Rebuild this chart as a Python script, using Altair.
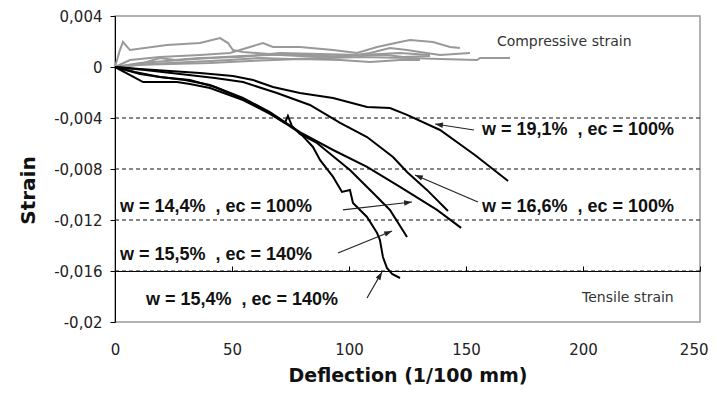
import altair as alt
import pandas as pd
import numpy as np

# ---------- data ----------
# tensile strain curves (black)
t_names = ["T1", "T2", "T3", "T4", "T5"]
t1_x = [0, 10.7, 23.5, 36.3, 50.4, 59, 67.5, 79, 93.2, 107.7, 117.5, 124.8, 138.9, 153.8, 168]
t1_y = [0, -0.00016, -0.00031, -0.00047, -0.00071, -0.00102, -0.00157, -0.00204, -0.00243, -0.00314, -0.00322, -0.00376, -0.00494, -0.0069, -0.00894]
t2_x = [0, 12.8, 27.8, 42.7, 54.7, 69.2, 83.3, 96.2, 107.7, 118.8, 124.8, 133.3, 142.3]
t2_y = [0, -0.00024, -0.00055, -0.00086, -0.00118, -0.00204, -0.00298, -0.00439, -0.00549, -0.00706, -0.00823, -0.00964, -0.01129]
t3_x = [0, 10.7, 19.2, 29.9, 40.6, 54.7, 66.2, 79, 93.2, 107.7, 121.8, 137.6, 147.9]
t3_y = [0, -0.00055, -0.00078, -0.00102, -0.00141, -0.00243, -0.00353, -0.0051, -0.00651, -0.00784, -0.00941, -0.01121, -0.01262]
t4_x = [0, 12, 26.5, 32, 40.6, 54.7, 66.2, 72.6, 73.9, 75.6, 79, 86.3, 100.4, 110.3, 117.5, 124.8]
t4_y = [0, -0.00118, -0.00118, -0.00133, -0.00165, -0.00259, -0.00368, -0.00439, -0.00384, -0.00463, -0.00525, -0.00596, -0.00808, -0.00988, -0.01121, -0.01333]
t5_x = [0, 8.5, 19.2, 32, 42.7, 54.7, 66.2, 79, 84.6, 87.6, 93.2, 97, 100.4, 101.7, 107.7, 112, 113.2, 114.5, 116.2, 118.4, 121.8]
t5_y = [0, -0.00039, -0.00078, -0.00102, -0.00157, -0.00251, -0.00361, -0.00517, -0.00627, -0.00729, -0.00862, -0.0098, -0.00964, -0.01066, -0.01176, -0.01302, -0.01356, -0.0149, -0.01576, -0.01623, -0.01655]

# compressive strain curves (gray)
c_names = ["C1", "C2", "C3", "C4", "C5", "C6"]
c1_x = [0, 2.1, 3.4, 6.4, 22.2, 36.3, 44.9, 48.3, 50.4, 54.7, 70.5, 87.6, 104.7, 121.8, 134.6]
c1_y = [0, 0.00133, 0.00196, 0.00133, 0.00173, 0.00188, 0.00227, 0.00188, 0.00133, 0.00118, 0.00094, 0.00078, 0.00094, 0.0011, 0.00094]
c2_x = [0, 6.4, 19.2, 36.3, 49.1, 57.7, 63.2, 67.5, 79.1, 93.2, 103.4, 112, 121.8, 126.1, 135.9, 143.2, 147.4]
c2_y = [0, 0.00055, 0.00078, 0.00094, 0.0011, 0.00157, 0.00188, 0.00157, 0.00157, 0.00133, 0.0011, 0.00157, 0.00196, 0.00212, 0.00196, 0.00157, 0.00149]
c3_x = [0, 10.7, 27.8, 40.6, 53.4, 66.2, 83.3, 97.4, 109, 117.5, 124.8, 130.3, 138.9, 151.7]
c3_y = [0, 0.00031, 0.00055, 0.00071, 0.00086, 0.00094, 0.00094, 0.00078, 0.0011, 0.00149, 0.00133, 0.00118, 0.00094, 0.0011]
c4_x = [0, 15, 32, 49.1, 62, 74.8, 91.9, 104.7, 126.1, 138.9, 154.7, 156, 168.8]
c4_y = [0, 0.00024, 0.00039, 0.00055, 0.00071, 0.00063, 0.00071, 0.00078, 0.00071, 0.00063, 0.00055, 0.00071, 0.00071]
c5_x = [0, 10.7, 19.2, 25.6, 36.3, 53.4, 70.5, 87.6, 104.7, 116.2, 123.1, 134.6]
c5_y = [0, 0.00024, 0.00071, 0.00055, 0.00071, 0.00078, 0.0011, 0.00102, 0.00094, 0.00094, 0.00078, 0.00086]
c6_x = [0, 8.5, 23.5, 40.6, 57.7, 79.1, 96.2, 109, 121.8, 130.3]
c6_y = [0, 0.00016, 0.00024, 0.00031, 0.00047, 0.00063, 0.00055, 0.00039, 0.00055, 0.00055]

# dashed grid values
grid_values = [-0.004, -0.008, -0.012, -0.016]
y_ticks = [0.004, 0, -0.004, -0.008, -0.012, -0.016, -0.02]
x_ticks = [0, 50, 100, 150, 200, 250]

# annotations
ann_text = ["w = 19,1%\u00a0\u00a0, ec = 100%", "w = 16,6%\u00a0\u00a0, ec = 100%",
            "w = 14,4%\u00a0\u00a0, ec = 100%", "w = 15,5%\u00a0\u00a0, ec = 140%",
            "w = 15,4%\u00a0\u00a0, ec = 140%"]
ann_x = [156.8, 156.8, 2.1, 2.1, 13.2]
ann_y = [-0.00494, -0.01098, -0.01098, -0.01474, -0.01827]
arr_x1 = [153.4, 155.1, 97.4, 95.3, 107.7]
arr_y1 = [-0.00494, -0.01059, -0.01121, -0.01459, -0.01812]
arr_x2 = [136.8, 128.2, 126.9, 118.4, 114.1]
arr_y2 = [-0.00447, -0.00847, -0.01059, -0.01286, -0.01608]

note_text = ["Compressive strain", "Tensile strain"]
note_x = [163.2, 199.6]
note_y = [0.00196, -0.01812]

# ---------- build tables ----------
W, H = 585, 306
XMIN, XMAX, YMIN, YMAX = 0, 250, -0.02, 0.004


def long(names, xs, ys):
    rows = []
    for n, xx, yy in zip(names, xs, ys):
        for i, (a, b) in enumerate(zip(xx, yy)):
            rows.append({"s": n, "i": i, "x": a, "y": b})
    return pd.DataFrame(rows)


tdf = long(t_names, [t1_x, t2_x, t3_x, t4_x, t5_x], [t1_y, t2_y, t3_y, t4_y, t5_y])
cdf = long(c_names, [c1_x, c2_x, c3_x, c4_x, c5_x, c6_x], [c1_y, c2_y, c3_y, c4_y, c5_y, c6_y])
gdf = pd.DataFrame({"y": grid_values})
adf = pd.DataFrame({"t": ann_text, "x": ann_x, "y": ann_y})
ndf = pd.DataFrame({"t": note_text, "x": note_x, "y": note_y})
dx = (np.array(arr_x2) - np.array(arr_x1)) * W / (XMAX - XMIN)
dy = -(np.array(arr_y2) - np.array(arr_y1)) * H / (YMAX - YMIN)
ang = (np.degrees(np.arctan2(dx, -dy)) + 360) % 360
rdf = pd.DataFrame({"x": arr_x1, "y": arr_y1, "x2": arr_x2, "y2": arr_y2, "a": ang})

xscale = alt.Scale(domain=[XMIN, XMAX], nice=False, zero=False)
yscale = alt.Scale(domain=[YMIN, YMAX], nice=False, zero=False)

yaxis = alt.Axis(values=y_ticks, grid=False, domainColor="black", tickColor="black", tickSize=5,
                 labelExpr="replace(replace(format(datum.value, '~g'), '.', ','), '\u2212', '-')",
                 labelFont="DejaVu Sans", labelFontSize=15, labelColor="#222", labelPadding=8,
                 title="Strain", titleFont="DejaVu Sans", titleFontSize=20, titleFontWeight="bold",
                 titleColor="#111", titleX=-87, titleY=174, titleAngle=270, titleBaseline="middle",
                 titleAlign="center")
Y = alt.Y("y:Q", scale=yscale, axis=yaxis)

x_label_axis = alt.Axis(
    values=x_ticks, grid=False, domain=False, ticks=False, labelFont="DejaVu Sans",
    labelFontSize=15, labelColor="#222", labelPadding=20, labelFlush=False,
    labelAlign={"condition": {"test": "datum.value == 250", "value": "right"}, "value": "center"},
    labelOffset={"condition": {"test": "datum.value == 250", "value": 8}, "value": 0},
    title="Deflection (1/100 mm)", titleFont="DejaVu Sans", titleFontSize=19,
    titleFontWeight="bold", titleColor="#111", titleY=53, titleBaseline="middle")
x_zero_axis = alt.Axis(values=x_ticks, grid=False, domainColor="black", tickColor="black", tickSize=5,
                       labels=False, title=None, offset=-255)

grid = alt.Chart(gdf).mark_rule(color="#111", strokeDash=[4, 3], strokeWidth=1).encode(
    y=alt.Y("y:Q", scale=yscale, axis=yaxis))

gray = alt.Chart(cdf).mark_line(color="#999999", strokeWidth=2).encode(
    x=alt.X("x:Q", scale=xscale, axis=x_label_axis), y=Y, detail="s:N", order="i:Q")

black = alt.Chart(tdf).mark_line(color="black", strokeWidth=2).encode(
    x=alt.X("x:Q", scale=xscale, axis=x_zero_axis), y=Y, detail="s:N", order="i:Q")

shafts = alt.Chart(rdf).mark_rule(color="#222", strokeWidth=1.2).encode(
    x=alt.X("x:Q", scale=xscale, axis=None), y=Y, x2="x2:Q", y2="y2:Q")

heads = alt.Chart(rdf).mark_point(shape="M0,0L-0.42,1.2L0.42,1.2Z", filled=True, color="#222",
                                  size=170, opacity=1).encode(
    x=alt.X("x2:Q", scale=xscale, axis=None), y=alt.Y("y2:Q", scale=yscale, axis=yaxis),
    angle=alt.Angle("a:Q", scale=None))

labels = alt.Chart(adf).mark_text(align="left", baseline="middle", font="Liberation Sans",
                                  fontSize=18, fontWeight="bold", color="#111").encode(
    x=alt.X("x:Q", scale=xscale, axis=None), y=Y, text="t:N")

notes = alt.Chart(ndf).mark_text(align="left", baseline="middle", font="DejaVu Sans",
                                 fontSize=14, color="#333").encode(
    x=alt.X("x:Q", scale=xscale, axis=None), y=Y, text="t:N")

chart = alt.layer(grid, gray, black, shafts, heads, labels, notes).resolve_axis(
    x="independent").properties(
    width=W, height=H, autosize=alt.AutoSizeParams(type="none"),
    padding={"left": 107, "top": 8, "right": 9, "bottom": 65},
    background="white").configure_view(stroke="#999999", strokeWidth=1.5)

chart.save("out.html", embed_options={"renderer": "svg", "actions": False})
